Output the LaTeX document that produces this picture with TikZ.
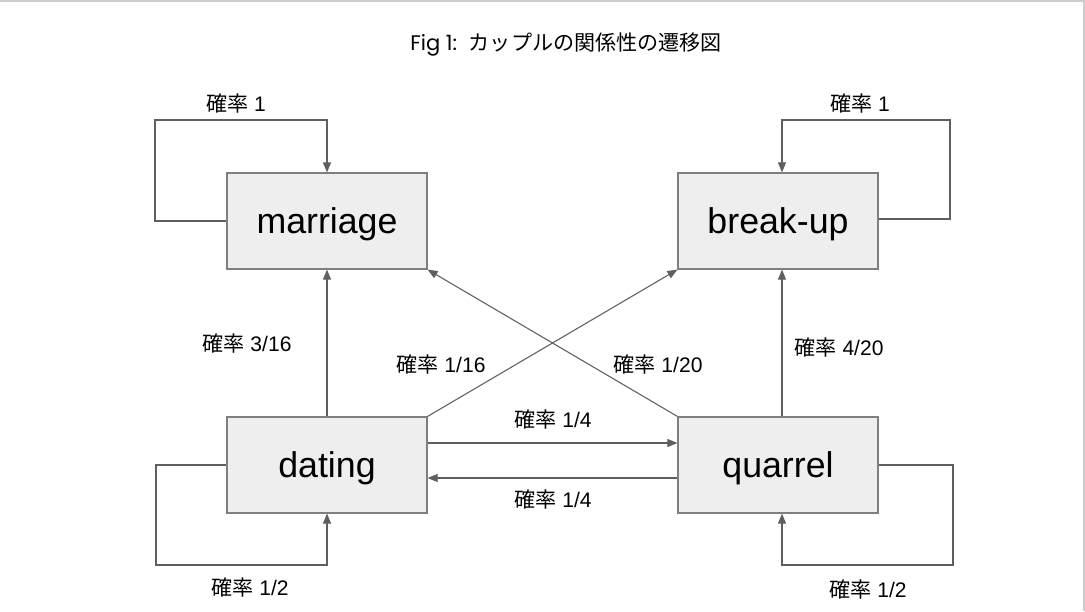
\documentclass[tikz,border=0pt]{standalone}
\usepackage{fontspec}
\setmainfont{Liberation Sans}
\newfontfamily\jp{Noto Sans CJK JP}
\newfontfamily\titlefont{Poppins}
\usetikzlibrary{arrows.meta}
\definecolor{boxfill}{HTML}{EEEEEE}
\definecolor{boxline}{HTML}{7F7F7F}
\definecolor{arrcol}{HTML}{5F5F5F}
\definecolor{framecol}{HTML}{CCCCCC}
\tikzset{
  state/.style={draw=boxline, fill=boxfill, line width=0.9pt, minimum width=150pt, minimum height=72pt, inner sep=0pt, text height=24pt, text depth=5pt, font=\fontsize{26.8}{30}\selectfont},
  arr/.style={draw=arrcol, line width=0.8pt, -{Triangle[length=7.5pt,width=6pt]}},
  lbl/.style={font=\fontsize{15.8}{18}\selectfont, inner sep=0pt}
}
\newcommand{\prob}[1]{{\jp 確率} #1}
\begin{document}
\begin{tikzpicture}[x=0.75pt,y=-0.75pt]
\useasboundingbox (0,0) rectangle (1085,611);
\fill[white] (0,0) rectangle (1085,611);
\draw[framecol, line width=1.5pt] (0,0.8) -- (1083.5,0.8) -- (1083.5,611);
\node[font=\fontsize{15.8}{18}\selectfont] (title) at (566,44) {{\titlefont Fig 1:}\ \ {\jp カップルの関係性の遷移図}};
\node[state] (m) at (327,221) {marriage};
\node[state] (b) at (778,221) {break-up};
\node[state] (d) at (327,465) {dating};
\node[state] (q) at (778,465) {quarrel};
\coordinate (mL) at (155,120);
\coordinate (bR) at (950,120);
\coordinate (dL) at (156,565);
\coordinate (qR) at (953,565);
% loops
\draw[arr] (m.west) -| (mL) -| (m.north);
\draw[arr] ([yshift=1.5pt]b.east) -| (bR) -| ([xshift=3pt]b.north);
\draw[arr] (d.west) -| (dL) -| (d.south);
\draw[arr] (q.east) -| (qR) -| ([xshift=3pt]q.south);
% verticals
\draw[arr] (d.north) -- (m.south);
\draw[arr] ([xshift=3pt]q.north) -- ([xshift=3pt]b.south);
% diagonals
\draw[arr] (d.north east) -- (b.south west);
\draw[arr] (q.north west) -- (m.south east);
% horizontals
\draw[arr] ([yshift=16.5pt]d.east) -- ([yshift=16.5pt]q.west);
\draw[arr] ([yshift=-9.75pt]q.west) -- ([yshift=-9.75pt]d.east);
% labels
\node[lbl] (l1) at (236,104) {\prob{1}};
\node[lbl] (l2) at (860,104) {\prob{1}};
\node[lbl] (l3) at (247,344) {\prob{3/16}};
\node[lbl] (l4) at (441,365) {\prob{1/16}};
\node[lbl] (l5) at (658,365) {\prob{1/20}};
\node[lbl] (l6) at (839,348) {\prob{4/20}};
\node[lbl] (l7) at (553,420) {\prob{1/4}};
\node[lbl] (l8) at (553,500) {\prob{1/4}};
\node[lbl] (l9) at (250,588) {\prob{1/2}};
\node[lbl] (l10) at (868,590) {\prob{1/2}};
\end{tikzpicture}
\end{document}
